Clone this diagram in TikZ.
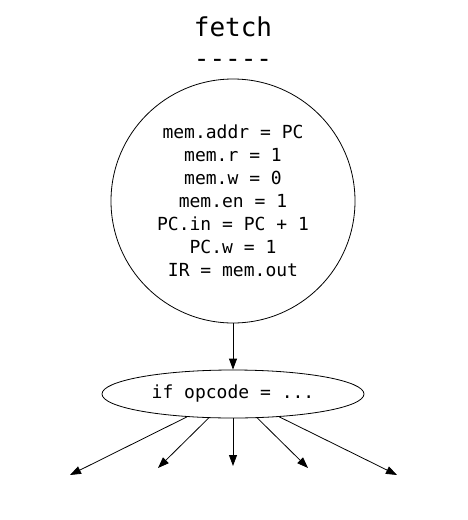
\documentclass[tikz,border=0pt]{standalone}
\usepackage{fontspec}
\setmonofont{DejaVu Sans Mono}
\usetikzlibrary{arrows.meta,shapes.geometric}
\begin{document}
\begin{tikzpicture}[x=1pt,y=-1pt,>={Triangle[length=11pt,width=8pt]}]
	%---------------- Styles ----------------
	\tikzset{
		state/.style={draw, circle, minimum size=244pt, inner sep=0pt, line width=0.8pt,
			align=center, font=\ttfamily\fontsize{18}{23}\selectfont},   % state bubble
		branch/.style={draw, ellipse, minimum width=262pt, minimum height=48pt, inner sep=0pt,
			line width=0.8pt, font=\ttfamily\fontsize{18}{23}\selectfont}, % decision ellipse
		title/.style={font=\ttfamily\fontsize{26}{30}\selectfont},       % heading text
		edge/.style={->, line width=0.8pt},                              % connectors
	}
	
	%---------------- Frame ----------------
	\useasboundingbox (0,0) rectangle (467,520);
	
	%---------------- Heading ----------------
	\node[title] (head) at (233,27) {fetch};
	\node[title] (rule) at (233,63) {-----};
	
	%---------------- Fetch state ----------------
	\node[state] (fetch) at (233,201) {mem.addr = PC\\ mem.r = 1\\ mem.w = 0\\ mem.en = 1\\
		PC.in = PC + 1\\ PC.w = 1\\ IR = mem.out};
	
	%---------------- Opcode test ----------------
	\node[branch] (opcode) at (233,394) {if opcode = ...};
	\draw[edge] (fetch) -- (opcode);
	
	%---------------- Open branches ----------------
	\coordinate (o1) at (70,475);
	\coordinate (o2) at (158,468);
	\coordinate (o3) at (233,466);
	\coordinate (o4) at (308,468);
	\coordinate (o5) at (397,475);
	\foreach \k in {1,...,5}
		\draw[edge] (opcode) -- (o\k);
\end{tikzpicture}
\end{document}
